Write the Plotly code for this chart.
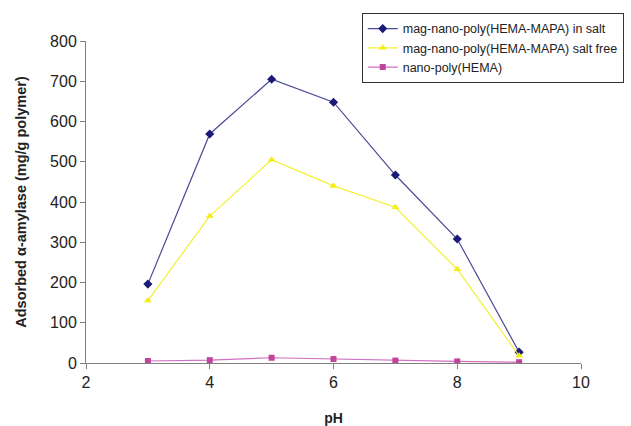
import plotly.graph_objects as go

ph = [3, 4, 5, 6, 7, 8, 9]
in_salt = [196, 569, 705, 648, 467, 308, 27]
salt_free = [155, 365, 505, 440, 387, 233, 18]
nano_hema = [5, 7, 13, 10, 6, 4, 2]

x_ticks = [2, 4, 6, 8, 10]
y_ticks = [0, 100, 200, 300, 400, 500, 600, 700, 800]

fig = go.Figure()
fig.add_trace(go.Scatter(
    x=ph, y=in_salt, mode="lines+markers", name="mag-nano-poly(HEMA-MAPA) in salt",
    line=dict(color="#4a4a98", width=1.2),
    marker=dict(symbol="diamond", size=7, color="#1a1a78")))
fig.add_trace(go.Scatter(
    x=ph, y=salt_free, mode="lines+markers", name="mag-nano-poly(HEMA-MAPA) salt free",
    line=dict(color="#f2f030", width=1.2),
    marker=dict(symbol="triangle-up", size=7, color="#f5ee10")))
fig.add_trace(go.Scatter(
    x=ph, y=nano_hema, mode="lines+markers", name="nano-poly(HEMA)",
    line=dict(color="#d070c0", width=1.2),
    marker=dict(symbol="square", size=6, color="#c0449c")))

axis_common = dict(
    showgrid=False, zeroline=False, showline=True, linecolor="#808080", linewidth=1,
    ticks="outside", ticklen=5, tickcolor="#808080", automargin=False,
    tickfont=dict(family="Arial, Liberation Sans", size=16, color="#222222"),
)
fig.update_xaxes(range=[2, 10], tickvals=x_ticks, **axis_common,
                 title=dict(text="<b>pH</b>", font=dict(family="Arial, Liberation Sans", size=14, color="#222222"), standoff=30))
fig.update_yaxes(range=[0, 800], tickvals=y_ticks, **axis_common,
                 title=dict(text="<b>Adsorbed α-amylase (mg/g polymer)</b>", font=dict(family="Arial, Liberation Sans", size=14.5, color="#222222"), standoff=20))

fig.update_layout(
    width=631, height=426, autosize=False,
    margin=dict(l=86, r=50, t=41, b=63, autoexpand=False),
    plot_bgcolor="white", paper_bgcolor="white",
    legend=dict(x=0.557, y=1.087, xanchor="left", yanchor="top",
                bordercolor="#333333", borderwidth=1, bgcolor="white",
                font=dict(family="Arial, Liberation Sans", size=12.5, color="#222222"),
                itemwidth=30),
    showlegend=True,
)
fig.write_html("out.html",
               config={"displayModeBar": False, "responsive": False},
               post_script="document.body.style.margin='0px';document.body.style.overflow='hidden';")
